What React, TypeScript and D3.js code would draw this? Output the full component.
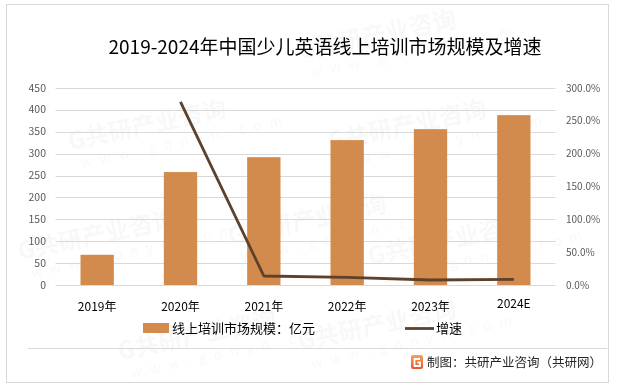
import React, { useRef, useEffect } from 'react';
import * as d3 from 'd3';

const years = ['2019年', '2020年', '2021年', '2022年', '2023年', '2024E'];
const marketSize = [69, 258, 292, 331, 356, 388];
const growthRate: (number | null)[] = [null, 279, 13.7, 11.5, 7.6, 8.7];
const leftTicks = [0, 50, 100, 150, 200, 250, 300, 350, 400, 450];
const rightTicks = [0, 50, 100, 150, 200, 250, 300];

const title = '2019-2024年中国少儿英语线上培训市场规模及增速';
const barName = '线上培训市场规模：亿元';
const lineName = '增速';
const source = '制图：共研产业咨询（共研网）';

export default function App(): JSX.Element {
  const svgRef = useRef<SVGSVGElement>(null);
  useEffect(() => {
    const el = svgRef.current;
    if (el == null) {
      return;
    }
    const W = 617;
    const H = 387;
    const svg = d3.select(el);
    svg.selectAll('*').remove();
    const font = "'Noto Sans CJK SC', 'Noto Sans', sans-serif";

    svg.append('rect').attr('width', W).attr('height', H).attr('fill', '#fff');

    // faint watermarks, kept inside the picture
    const wm = svg.append('g').attr('fill', '#000').attr('opacity', 0.03).attr('font-family', font);
    const wmPos = [
      [70, 150], [330, 150], [20, 260], [230, 245], [370, 265], [120, 360], [300, 350], [300, 60]
    ];
    wmPos.forEach(([x, y]) => {
      const g = wm.append('g').attr('transform', `translate(${x},${y}) rotate(-12)`);
      g.append('text').attr('font-size', 24).attr('font-weight', 'bold').text('G共研产业咨询');
      g.append('text').attr('y', 20).attr('x', 8).attr('font-size', 14).attr('letter-spacing', 8).text('www.gonyn.com');
    });

    // outer border
    svg.append('rect')
      .attr('x', 6.5).attr('y', 4.5).attr('width', 602).attr('height', 378)
      .attr('fill', 'none').attr('stroke', '#d9d9d9');

    svg.append('text')
      .attr('x', 325).attr('y', 54)
      .attr('text-anchor', 'middle')
      .attr('font-family', font)
      .attr('font-size', 19)
      .attr('fill', '#000')
      .text(title);

    const x = d3.scaleBand().domain(years).range([55.5, 555.5]).paddingInner(0.6).paddingOuter(0.3);
    const yL = d3.scaleLinear().domain([0, 450]).range([285, 88]);
    const yR = d3.scaleLinear().domain([0, 300]).range([285, 88]);

    // grid
    svg.append('g')
      .selectAll('line')
      .data(leftTicks)
      .join('line')
      .attr('x1', 55.5).attr('x2', 555.5)
      .attr('y1', (d) => Math.round(yL(d)) + 0.5)
      .attr('y2', (d) => Math.round(yL(d)) + 0.5)
      .attr('stroke', '#d9d9d9');

    svg.append('g')
      .selectAll('text')
      .data(leftTicks)
      .join('text')
      .attr('x', 46).attr('y', (d) => yL(d) + 3.5)
      .attr('text-anchor', 'end')
      .attr('font-family', font).attr('font-size', 10.5).attr('fill', '#595959')
      .text((d) => d);

    svg.append('g')
      .selectAll('text')
      .data(rightTicks)
      .join('text')
      .attr('x', 566).attr('y', (d) => yR(d) + 3.5)
      .attr('font-family', font).attr('font-size', 10).attr('fill', '#595959')
      .text((d) => d.toFixed(1) + '%');

    // bars
    svg.append('g')
      .selectAll('rect')
      .data(marketSize)
      .join('rect')
      .attr('x', (d, i) => x(years[i]) as number)
      .attr('y', (d) => yL(d))
      .attr('width', x.bandwidth())
      .attr('height', (d) => yL(0) - yL(d))
      .attr('fill', '#d38b4d');

    // growth line
    const line = d3.line<number | null>()
      .defined((d) => d != null)
      .x((d, i) => (x(years[i]) as number) + x.bandwidth() / 2)
      .y((d) => yR(d as number));
    svg.append('path')
      .datum(growthRate)
      .attr('d', line)
      .attr('fill', 'none')
      .attr('stroke', '#5e412b')
      .attr('stroke-width', 2.8)
      .attr('stroke-linejoin', 'round');

    // x labels
    svg.append('g')
      .selectAll('text')
      .data(years)
      .join('text')
      .attr('x', (d) => (x(d) as number) + x.bandwidth() / 2)
      .attr('y', (d) => (d === '2024E' ? 308 : 311))
      .attr('text-anchor', 'middle')
      .attr('font-family', font).attr('font-size', 12).attr('fill', '#000')
      .text((d) => d);

    // legend
    svg.append('rect').attr('x', 143).attr('y', 323).attr('width', 26).attr('height', 10).attr('fill', '#d38b4d');
    svg.append('text')
      .attr('x', 172).attr('y', 333)
      .attr('font-family', font).attr('font-size', 13).attr('fill', '#000')
      .text(barName);
    svg.append('line')
      .attr('x1', 405).attr('x2', 434).attr('y1', 328.5).attr('y2', 328.5)
      .attr('stroke', '#5e412b').attr('stroke-width', 2.8);
    svg.append('text')
      .attr('x', 436).attr('y', 333)
      .attr('font-family', font).attr('font-size', 13).attr('fill', '#000')
      .text(lineName);

    // footer
    svg.append('line')
      .attr('x1', 28).attr('x2', 607).attr('y1', 348.5).attr('y2', 348.5)
      .attr('stroke', '#d9d9d9');
    const grad = svg.append('defs').append('linearGradient')
      .attr('id', 'logoGrad').attr('x1', 0).attr('y1', 0).attr('x2', 0).attr('y2', 1);
    grad.append('stop').attr('offset', '0%').attr('stop-color', '#f6a25a');
    grad.append('stop').attr('offset', '100%').attr('stop-color', '#e8552e');
    svg.append('rect')
      .attr('x', 411).attr('y', 355).attr('width', 12).attr('height', 14).attr('rx', 2)
      .attr('fill', 'url(#logoGrad)');
    svg.append('path')
      .attr('d', 'M420,359 L414.5,359 L414.5,366 L420,366 L420,362.5 L417.5,362.5')
      .attr('fill', 'none').attr('stroke', '#fff').attr('stroke-width', 1.8);
    svg.append('text')
      .attr('x', 427).attr('y', 367)
      .attr('font-family', font).attr('font-size', 12.5).attr('fill', '#262626')
      .text(source);
  }, []);
  return (
    <svg
      ref={svgRef}
      width={617}
      height={387}
      style={{ position: 'absolute', left: 0, top: 0, display: 'block' }}
    />
  );
}
